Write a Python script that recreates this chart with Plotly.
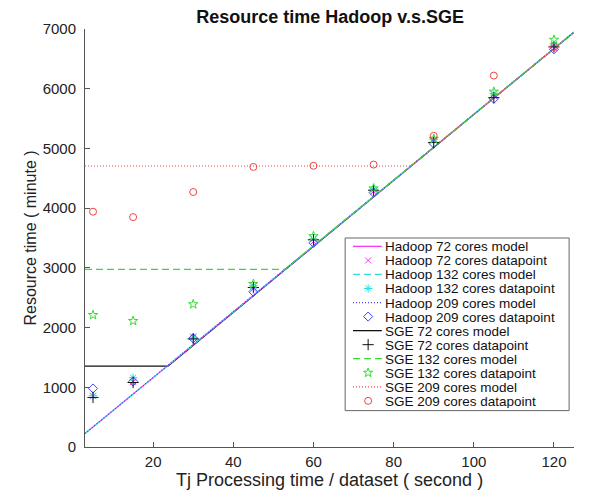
import plotly.graph_objects as go

# sample points (seconds per dataset)
tj = [5, 15, 30, 45, 60, 75, 90, 105, 120]

# measured resource time (minutes)
hadoop72_pts = [850, 1090, 1850, 2650, 3440, 4280, 5130, 5880, 6680]
hadoop132_pts = [860, 1160, 1830, 2700, 3480, 4320, 5150, 5920, 6750]
hadoop209_pts = [980, 1100, 1820, 2600, 3420, 4260, 5080, 5830, 6660]
sge72_pts = [830, 1080, 1810, 2670, 3470, 4300, 5100, 5850, 6700]
sge132_pts = [2210, 2110, 2390, 2730, 3530, 4330, 5160, 5950, 6820]
sge209_pts = [3940, 3850, 4270, 4690, 4710, 4730, 5210, 6220, 6700]

# model curves (break points)
hadoop_model_x = [3, 125]
hadoop_model_y = [226, 6947]
sge72_model_x = [3, 23.7, 125]
sge72_model_y = [1355, 1355, 6947]
sge132_model_x = [3, 52.8, 125]
sge132_model_y = [2975, 2975, 6947]
sge209_model_x = [3, 84.3, 125]
sge209_model_y = [4706, 4706, 6947]

MAG = '#ff33ff'
CYAN = '#33dddd'
BLUE = '#4444ff'
BLACK = '#111111'
GREEN = '#33dd33'
RED = '#ee4444'
DASH = '7px,4px'
DOT = '1px,2px'

legend_names = ['Hadoop 72 cores model', 'Hadoop 72 cores datapoint',
                'Hadoop 132 cores model', 'Hadoop 132 cores datapoint',
                'Hadoop 209 cores model', 'Hadoop 209 cores datapoint',
                'SGE 72 cores model', 'SGE 72 cores datapoint',
                'SGE 132 cores model', 'SGE 132 cores datapoint',
                'SGE 209 cores model', 'SGE 209 cores datapoint']

# (kind, color, dash or symbol, marker size) in legend order
legend_styles = [('line', MAG, 'solid', None), ('marker', MAG, 'x-thin-open', 6),
                 ('line', CYAN, DASH, None), ('marker', CYAN, 'asterisk-open', 7),
                 ('line', BLUE, DOT, None), ('marker', BLUE, 'diamond-open', 7),
                 ('line', BLACK, 'solid', None), ('marker', BLACK, 'cross-thin-open', 8),
                 ('line', GREEN, DASH, None), ('marker', GREEN, 'star-open', 7),
                 ('line', RED, DOT, None), ('marker', RED, 'circle-open', 7)]

fig = go.Figure()


def model(x, y, name, color, dash):
    fig.add_trace(go.Scatter(x=x, y=y, name=name, mode='lines', showlegend=False,
                             hoverinfo='skip', line=dict(color=color, width=1.2, dash=dash)))


def points(y, name, color, symbol, size):
    fig.add_trace(go.Scatter(x=tj, y=y, name=name, mode='markers', showlegend=False,
                             marker=dict(color=color, symbol=symbol, size=size,
                                         line=dict(color=color, width=1))))


# black model underneath so the shared diagonal keeps its colours
model(sge72_model_x, sge72_model_y, 'SGE 72 cores model', BLACK, 'solid')
model(hadoop_model_x, hadoop_model_y, 'Hadoop 72 cores model', MAG, 'solid')
model(hadoop_model_x, hadoop_model_y, 'Hadoop 132 cores model', CYAN, DASH)
model(hadoop_model_x, hadoop_model_y, 'Hadoop 209 cores model', BLUE, DOT)
model(sge132_model_x, sge132_model_y, 'SGE 132 cores model', GREEN, DASH)
model(sge209_model_x, sge209_model_y, 'SGE 209 cores model', RED, DOT)
points(hadoop72_pts, 'Hadoop 72 cores datapoint', MAG, 'x-thin-open', 6)
points(hadoop132_pts, 'Hadoop 132 cores datapoint', CYAN, 'asterisk-open', 7)
points(hadoop209_pts, 'Hadoop 209 cores datapoint', BLUE, 'diamond-open', 7)
points(sge72_pts, 'SGE 72 cores datapoint', BLACK, 'cross-thin-open', 8)
points(sge132_pts, 'SGE 132 cores datapoint', GREEN, 'star-open', 7)
points(sge209_pts, 'SGE 209 cores datapoint', RED, 'circle-open', 7)

# MATLAB style legend box, drawn on an overlay axis spanning the plot area (0..1)
box_x0, box_x1, box_y0, box_y1 = 0.532, 0.990, 0.087, 0.500
line_x0, line_x1, mark_x, text_x = 0.548, 0.607, 0.579, 0.612
first_y, step_y = 0.480, 0.0336

fig.add_trace(go.Scatter(x=[box_x0, box_x1, box_x1, box_x0, box_x0],
                         y=[box_y0, box_y0, box_y1, box_y1, box_y0],
                         xaxis='x2', yaxis='y2', mode='lines', fill='toself',
                         fillcolor='white', line=dict(color='#666666', width=1),
                         showlegend=False, hoverinfo='skip'))
annotations = []
for i, (name, (kind, color, style, size)) in enumerate(zip(legend_names, legend_styles)):
    yy = first_y - i * step_y
    if kind == 'line':
        fig.add_trace(go.Scatter(x=[line_x0, line_x1], y=[yy, yy], xaxis='x2', yaxis='y2',
                                 mode='lines', line=dict(color=color, width=1.3, dash=style),
                                 showlegend=False, hoverinfo='skip'))
    else:
        fig.add_trace(go.Scatter(x=[mark_x], y=[yy], xaxis='x2', yaxis='y2', mode='markers',
                                 marker=dict(color=color, symbol=style, size=size,
                                             line=dict(color=color, width=1)),
                                 showlegend=False, hoverinfo='skip'))
    annotations.append(dict(x=text_x, y=yy, xref='paper', yref='paper', text=name,
                            showarrow=False, xanchor='left', yanchor='middle',
                            height=14, borderpad=0, valign='middle',
                            font=dict(size=13.5, color='#111111')))

# x axis label placed like MATLAB's xlabel
annotations.append(dict(x=0.5, y=-0.078, xref='paper', yref='paper',
                        text='Tj Processing time / dataset ( second )', showarrow=False,
                        xanchor='center', yanchor='middle', font=dict(size=18, color='#222222')))

axis_common = dict(showgrid=False, zeroline=False, showline=True, linecolor='#555555',
                   linewidth=1, ticks='inside', ticklen=5, tickcolor='#555555',
                   tickfont=dict(size=15, color='#222222'))

# the page body adds an 8px offset, so margins are shifted to compensate
fig.update_layout(
    width=600, height=498,
    font=dict(family='Liberation Sans, Arial, sans-serif', color='#222222'),
    title=dict(text='<b>Resource time Hadoop v.s.SGE</b>', x=0.537, xanchor='center',
               y=0.995, yanchor='top', pad=dict(t=0), font=dict(size=18, color='#111111')),
    plot_bgcolor='white', paper_bgcolor='white',
    margin=dict(l=77, r=34, t=15, b=59),
    xaxis=dict(range=[3, 125], tickvals=[20, 40, 60, 80, 100, 120],
               ticklabelstandoff=1, **axis_common),
    yaxis=dict(range=[0, 7000], dtick=1000, ticklabelstandoff=5,
               title=dict(text='Resource time ( minute )', standoff=2,
                          font=dict(size=16)), **axis_common),
    xaxis2=dict(overlaying='x', range=[0, 1], visible=False, fixedrange=True),
    yaxis2=dict(overlaying='y', range=[0, 1], visible=False, fixedrange=True),
    annotations=annotations,
    showlegend=False,
)

fig.write_html('out.html')
